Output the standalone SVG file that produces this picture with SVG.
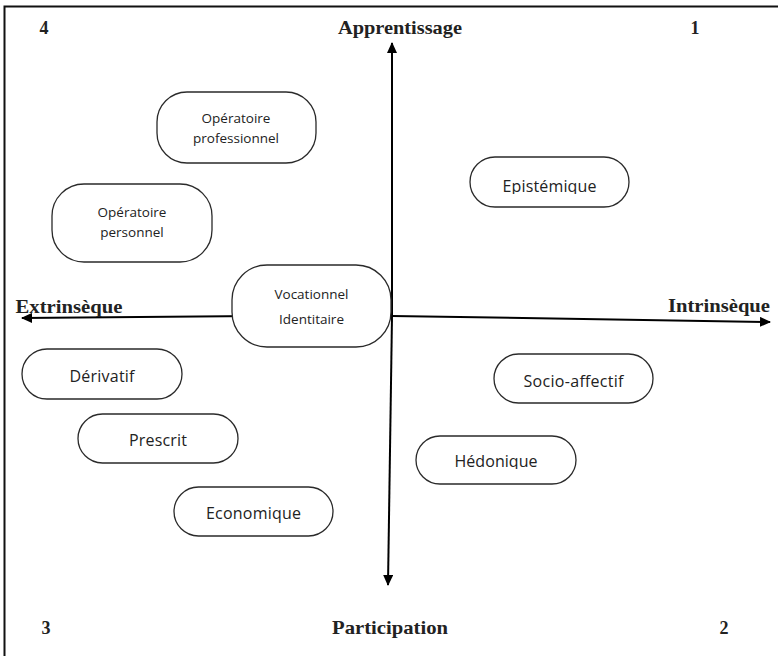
<svg xmlns="http://www.w3.org/2000/svg" width="778" height="656" viewBox="0 0 778 656">
<style>
.node rect{fill:#fff;stroke:#2a2a2a;stroke-width:1.3}
.nt{font-family:"Open Sans","Liberation Sans",sans-serif;fill:#222;text-anchor:middle}
.s1{font-size:16px}
.s2{font-size:13.5px}
.lab{font-family:"Liberation Serif",serif;font-weight:bold;fill:#222;text-anchor:middle;font-size:19px}
.num{font-family:"Liberation Serif",serif;font-weight:bold;fill:#222;text-anchor:middle;font-size:18px}
.axis{stroke:#000;stroke-width:2;fill:none}
</style>
<defs>
<marker id="ah" markerUnits="userSpaceOnUse" markerWidth="11" markerHeight="10" refX="10" refY="5" orient="auto">
<path d="M0,0 L11,5 L0,10 z" fill="#000"/>
</marker>
<clipPath id="clipEp"><rect x="470" y="150" width="160" height="44"/></clipPath>
<clipPath id="clipHe"><rect x="416" y="430" width="160" height="39"/></clipPath>
</defs>
<rect width="778" height="656" fill="#fff"/>
<path d="M790,6.5 H4.5 V670" fill="none" stroke="#111" stroke-width="2"/>

<g id="connectors">
<line class="axis" x1="392" y1="316" x2="392" y2="43" marker-end="url(#ah)"/>
<line class="axis" x1="392" y1="316" x2="388" y2="585" marker-end="url(#ah)"/>
<line class="axis" x1="392" y1="315" x2="22" y2="318" marker-end="url(#ah)"/>
<line class="axis" x1="392" y1="316" x2="770" y2="322" marker-end="url(#ah)"/>
</g>

<g id="labels">
<text class="lab" x="400" y="34" textLength="124" lengthAdjust="spacingAndGlyphs">Apprentissage</text>
<text class="lab" x="390" y="634" textLength="116" lengthAdjust="spacingAndGlyphs">Participation</text>
<text class="lab" x="69" y="313" textLength="107" lengthAdjust="spacingAndGlyphs">Extrinsèque</text>
<text class="lab" x="719" y="312" textLength="102" lengthAdjust="spacingAndGlyphs">Intrinsèque</text>
<text class="num" x="44" y="34">4</text>
<text class="num" x="695" y="34">1</text>
<text class="num" x="46" y="634">3</text>
<text class="num" x="724" y="634">2</text>
</g>

<g id="op-pro" class="node">
<rect x="157" y="92" width="159" height="71" rx="30"/>
<text class="nt s2" x="236" y="123">Opératoire</text>
<text class="nt s2" x="236" y="143">professionnel</text>
</g>
<g id="op-pers" class="node">
<rect x="52" y="184" width="160" height="78" rx="32"/>
<text class="nt s2" x="132" y="217">Opératoire</text>
<text class="nt s2" x="132" y="237">personnel</text>
</g>
<g id="vocationnel" class="node">
<rect x="232" y="265" width="159" height="82" rx="35"/>
<text class="nt s2" x="311.5" y="299">Vocationnel</text>
<text class="nt s2" x="311.5" y="324">Identitaire</text>
</g>
<g id="epistemique" class="node">
<rect x="470" y="157" width="159" height="50" rx="25"/>
<text class="nt s1" x="549.5" y="192" textLength="94" clip-path="url(#clipEp)">Epistémique</text>
</g>
<g id="derivatif" class="node">
<rect x="22" y="349" width="160" height="50" rx="25"/>
<text class="nt s1" x="102" y="382" textLength="65">Dérivatif</text>
</g>
<g id="prescrit" class="node">
<rect x="78" y="414" width="160" height="49" rx="24.5"/>
<text class="nt s1" x="158" y="446" textLength="58">Prescrit</text>
</g>
<g id="economique" class="node">
<rect x="174" y="487" width="159" height="49" rx="24.5"/>
<text class="nt s1" x="253.5" y="519" textLength="95">Economique</text>
</g>
<g id="socio-affectif" class="node">
<rect x="494" y="354" width="159" height="49" rx="24.5"/>
<text class="nt s1" x="573.5" y="387" textLength="100">Socio-affectif</text>
</g>
<g id="hedonique" class="node">
<rect x="416" y="436" width="160" height="48" rx="24"/>
<text class="nt s1" x="496" y="467" textLength="83" clip-path="url(#clipHe)">Hédonique</text>
</g>
</svg>
